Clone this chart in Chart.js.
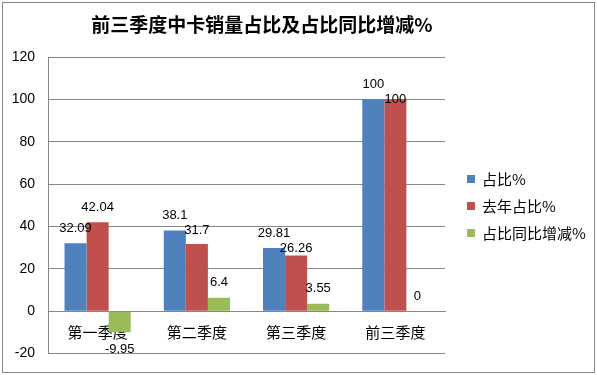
<!DOCTYPE html>
<html>
<head>
<meta charset="utf-8">
<script src="https://cdn.jsdelivr.net/npm/chart.js@4"></script>
<style>
    body { margin: 0; background: #fff; }
    #wrap { position: relative; width: 597px; height: 375px; }
    #frame { position: absolute; left: 2px; top: 2px; width: 591px; height: 369px; border: 1px solid #868686; pointer-events: none; }
</style>
</head>
<body>
<div id="wrap">
    <canvas id="chart" width="597" height="375"></canvas>
    <div id="frame"></div>
</div>
<script>
// Chart data
const chartTitle = '前三季度中卡销量占比及占比同比增减%';
const categories = ['第一季度', '第二季度', '第三季度', '前三季度'];
const seriesNames = ['占比%', '去年占比%', '占比同比增减%'];
const shareValues = [32.09, 38.1, 29.81, 100];
const lastYearValues = [42.04, 31.7, 26.26, 100];
const changeValues = [-9.95, 6.4, 3.55, 0];
const yMin = -20;
const yMax = 120;
const yStep = 20;

const colors = ['#4F81BD', '#C0504D', '#9BBB59'];
const cjkFont = "'Noto Sans CJK SC', 'Noto Sans', sans-serif";
const numFont = "'Liberation Sans', Arial, sans-serif";

// Title, centred over the plot + legend block like the original
const topTitle = {
    id: 'topTitle',
    afterDraw(chart) {
        const ctx = chart.ctx;
        ctx.save();
        ctx.font = 'bold 19px ' + cjkFont;
        ctx.fillStyle = '#000';
        ctx.textAlign = 'center';
        ctx.textBaseline = 'middle';
        ctx.fillText(chartTitle, 262, 25);
        ctx.restore();
    }
};

// Value labels above / below each bar
const valueLabels = {
    id: 'valueLabels',
    afterDatasetsDraw(chart) {
        const ctx = chart.ctx;
        ctx.save();
        ctx.font = '13px ' + numFont;
        ctx.fillStyle = '#000';
        ctx.textAlign = 'center';
        ctx.textBaseline = 'middle';
        const lastBox = {};
        chart.data.datasets.forEach((ds, di) => {
            chart.getDatasetMeta(di).data.forEach((bar, i) => {
                const v = ds.data[i];
                const text = String(v);
                const w = ctx.measureText(text).width;
                const x = bar.x;
                let y = v >= 0 ? bar.y - 15 : bar.y + 17;
                // push a label down if it would sit on its neighbour
                const prev = lastBox[i];
                if (prev && x - w / 2 < prev.right + 3 && Math.abs(y - prev.y) < 15) {
                    y = prev.y + 15;
                }
                ctx.fillText(text, x, y);
                lastBox[i] = { right: x + w / 2, y: y };
            });
        });
        ctx.restore();
    }
};

// Legend on the right
const sideLegend = {
    id: 'sideLegend',
    afterDraw(chart) {
        const ctx = chart.ctx;
        ctx.save();
        ctx.font = '15px ' + cjkFont;
        ctx.textBaseline = 'middle';
        chart.data.datasets.forEach((ds, i) => {
            const y = 179 + i * 27;
            ctx.fillStyle = ds.backgroundColor;
            ctx.fillRect(467, y - 4, 8, 8);
            ctx.fillStyle = '#000';
            ctx.fillText(ds.label, 482, y);
        });
        ctx.restore();
    }
};

const ctx = document.getElementById('chart').getContext('2d');
new Chart(ctx, {
    type: 'bar',
    data: {
        labels: categories,
        datasets: [
            { label: seriesNames[0], data: shareValues, backgroundColor: colors[0] },
            { label: seriesNames[1], data: lastYearValues, backgroundColor: colors[1] },
            { label: seriesNames[2], data: changeValues, backgroundColor: colors[2] }
        ]
    },
    options: {
        responsive: false,
        animation: false,
        datasets: {
            bar: { barPercentage: 1, categoryPercentage: 0.667 }
        },
        layout: {
            padding: { left: 0, right: 152, top: 57, bottom: 19 }
        },
        scales: {
            x: {
                position: { y: 0 },
                grid: { display: false, drawTicks: false },
                border: { display: true, color: '#868686' },
                ticks: { color: '#000', padding: 12, font: { family: cjkFont, size: 15 } }
            },
            y: {
                min: yMin,
                max: yMax,
                afterFit(scale) { scale.width = 48; },
                grid: { color: '#868686', drawTicks: false },
                border: { display: true, color: '#868686' },
                ticks: { stepSize: yStep, color: '#000', padding: 13, font: { family: numFont, size: 14 } }
            }
        },
        plugins: {
            legend: { display: false },
            tooltip: { enabled: false },
            title: { display: false }
        }
    },
    plugins: [valueLabels, sideLegend, topTitle]
});
</script>
</body>
</html>
